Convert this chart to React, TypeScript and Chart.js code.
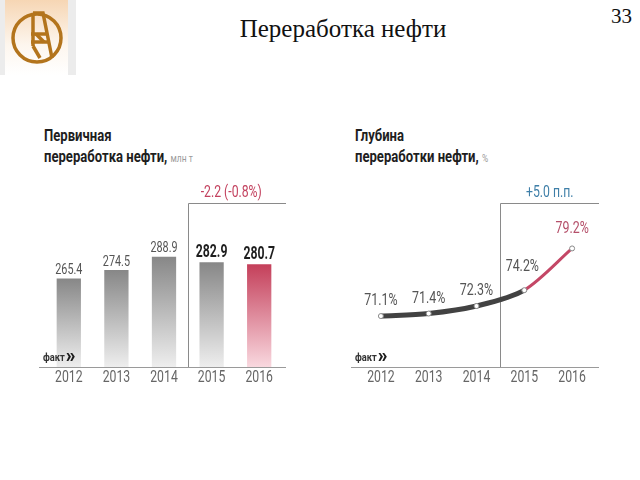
import React, { useEffect, useRef } from "react";
import { Chart, registerables } from "chart.js";

Chart.register(...registerables);

const years = ["2012", "2013", "2014", "2015", "2016"];
const primaryValues = [265.4, 274.5, 288.9, 282.9, 280.7];
const depthValues = [71.1, 71.4, 72.3, 74.2, 79.2];
const primaryChange = "-2.2 (-0.8%)";
const depthChange = "+5.0 п.п.";
const factLabel = "факт";
const pageTitle = "Переработка нефти";
const pageNumber = "33";

const FONT = 'Roboto, "DejaVu Sans Condensed", sans-serif';
const RED = "#c3415e";
const BLUE = "#3f7fa8";
const AXIS = "#9a9a9a";
const SX = 0.72;

function textC(
  ctx: CanvasRenderingContext2D,
  text: string,
  x: number,
  y: number,
  font: string,
  color: string,
  align: CanvasTextAlign = "center",
  sx: number = SX
) {
  ctx.save();
  ctx.font = font;
  ctx.fillStyle = color;
  ctx.textAlign = align;
  ctx.textBaseline = "middle";
  ctx.translate(x, y);
  ctx.scale(sx, 1);
  ctx.fillText(text, 0, 0);
  const w = ctx.measureText(text).width * sx;
  ctx.restore();
  return w;
}

function drawFact(ctx: CanvasRenderingContext2D, x: number, y: number) {
  const w = textC(ctx, factLabel, x, y, `bold 11px ${FONT}`, "#333", "left", 0.85);
  textC(ctx, "»", x + w + 1, y - 1, `900 20px ${FONT}`, "#1a1a1a", "left", 0.95);
}

function drawAxisAndYears(chart: any) {
  const { ctx, chartArea, scales } = chart;
  ctx.save();
  ctx.strokeStyle = AXIS;
  ctx.lineWidth = 1;
  ctx.beginPath();
  ctx.moveTo(chartArea.left - 6, chartArea.bottom + 0.5);
  ctx.lineTo(chartArea.right + 3, chartArea.bottom + 0.5);
  ctx.stroke();
  ctx.restore();
  years.forEach((y, i) => {
    textC(ctx, y, scales.x.getPixelForValue(i), chartArea.bottom + 11, `17px ${FONT}`, "#666");
  });
}

function drawBracket(chart: any, text: string, color: string, shift: number) {
  const { ctx, chartArea, scales } = chart;
  const xs = Math.round((scales.x.getPixelForValue(2) + scales.x.getPixelForValue(3)) / 2) + 0.5;
  const right = chartArea.right + 3;
  const top = chartArea.top + 3.5;
  ctx.save();
  ctx.strokeStyle = "#8a8a8a";
  ctx.lineWidth = 1;
  ctx.beginPath();
  ctx.moveTo(right, top);
  ctx.lineTo(xs, top);
  ctx.lineTo(xs, chartArea.bottom);
  ctx.stroke();
  ctx.restore();
  textC(ctx, text, (xs + right) / 2 + shift, top - 11, `17px ${FONT}`, color);
}

const barPlugin = {
  id: "barDecor",
  afterDatasetsDraw(chart: any) {
    const { ctx, chartArea } = chart;
    drawAxisAndYears(chart);
    drawBracket(chart, primaryChange, RED, -6);
    const meta = chart.getDatasetMeta(0);
    meta.data.forEach((bar: any, i: number) => {
      const strong = i >= 3;
      textC(
        ctx,
        primaryValues[i].toFixed(1),
        bar.x,
        bar.y - (strong ? 10 : 8),
        strong ? `bold 18px ${FONT}` : `15px ${FONT}`,
        strong ? "#1e1e1e" : "#555",
        "center",
        strong ? 0.68 : 0.72
      );
    });
    drawFact(ctx, chartArea.left - 2, chartArea.bottom - 9);
  },
};

const linePlugin = {
  id: "lineDecor",
  beforeDatasetsDraw(chart: any) {
    drawAxisAndYears(chart);
    drawBracket(chart, depthChange, BLUE, 0);
  },
  afterDatasetsDraw(chart: any) {
    const { ctx, chartArea } = chart;
    const meta = chart.getDatasetMeta(0);
    meta.data.forEach((pt: any, i: number) => {
      textC(
        ctx,
        depthValues[i].toFixed(1) + "%",
        pt.x - (i === 3 ? 2 : 0),
        pt.y - (i === 3 ? 23 : i === 4 ? 20 : 15),
        `17px ${FONT}`,
        i === 4 ? "#b5506a" : "#555",
        "center",
        0.73
      );
    });
    drawFact(ctx, chartArea.left - 2, chartArea.bottom - 9);
  },
};

function barGradient(c: any) {
  const chart = c.chart;
  const area = chart.chartArea;
  const yScale = chart.scales && chart.scales.y;
  if (!area || !yScale) return c.dataIndex === 4 ? RED : "#aaa";
  const top = yScale.getPixelForValue(primaryValues[c.dataIndex]);
  const g = chart.ctx.createLinearGradient(0, top, 0, area.bottom);
  if (c.dataIndex === 4) {
    g.addColorStop(0, "#c43f5a");
    g.addColorStop(1, "#f9d8df");
  } else {
    g.addColorStop(0, "#878787");
    g.addColorStop(1, "#eeeeee");
  }
  return g;
}

function BarChart() {
  const ref = useRef<HTMLCanvasElement>(null);
  useEffect(() => {
    const chart = new Chart(ref.current!, {
      type: "bar",
      data: {
        labels: years,
        datasets: [
          {
            data: primaryValues,
            backgroundColor: barGradient,
            borderWidth: 0,
            barPercentage: 0.51,
            categoryPercentage: 1,
          },
        ],
      },
      options: {
        animation: false,
        responsive: false,
        layout: { padding: { top: 100, bottom: 33, left: 45, right: 37 } },
        plugins: { legend: { display: false }, tooltip: { enabled: false } },
        scales: {
          x: { display: false },
          y: { display: false, min: 170, max: 350 },
        },
      },
      plugins: [barPlugin],
    });
    return () => chart.destroy();
  }, []);
  return <canvas ref={ref} width={320} height={300} style={{ position: "absolute", left: 0, top: 100 }} />;
}

function LineChart() {
  const ref = useRef<HTMLCanvasElement>(null);
  useEffect(() => {
    const chart = new Chart(ref.current!, {
      type: "line",
      data: {
        labels: years,
        datasets: [
          {
            data: depthValues,
            borderColor: "#444",
            borderWidth: 5,
            tension: 0.3,
            segment: {
              borderColor: (c: any) => (c.p1DataIndex === 4 ? "#c44766" : "#424242"),
              borderWidth: (c: any) => (c.p1DataIndex === 4 ? 3 : 5),
            },
            pointRadius: 2.5,
            pointBackgroundColor: "#ffffff",
            pointBorderColor: "#888",
            pointBorderWidth: 1,
            clip: false,
          },
        ],
      },
      options: {
        animation: false,
        responsive: false,
        layout: { padding: { top: 100, bottom: 33, left: 37, right: 44 } },
        plugins: { legend: { display: false }, tooltip: { enabled: false } },
        scales: {
          x: { display: false, offset: true },
          y: { display: false, min: 65, max: 85 },
        },
      },
      plugins: [linePlugin],
    });
    return () => chart.destroy();
  }, []);
  return <canvas ref={ref} width={320} height={300} style={{ position: "absolute", left: 320, top: 100 }} />;
}

function Logo() {
  const c = "#b3741c";
  return (
    <svg width={76} height={76} style={{ position: "absolute", left: 0, top: 0 }}>
      <defs>
        <linearGradient id="lg" x1="0" y1="0" x2="0" y2="1">
          <stop offset="0" stopColor="#f6d6b4" />
          <stop offset="0.6" stopColor="#fdf6ee" />
          <stop offset="1" stopColor="#ffffff" />
        </linearGradient>
      </defs>
      <rect x={0} y={0} width={76} height={75} fill="#ececec" />
      <rect x={5} y={0} width={63} height={75} fill="url(#lg)" />
      <circle cx={37} cy={38} r={24} fill="none" stroke={c} strokeWidth={3.5} />
      <g stroke={c} strokeWidth={3.5} fill="none" strokeLinejoin="miter">
        <path d="M33 13 L43 13 L52 58" />
        <path d="M33 13 L33 46" />
        <path d="M31 34 L46 34" />
        <path d="M31 42 L48 42" />
        <path d="M33 46 L40 58" />
        <path d="M36 34 L44 42" />
      </g>
    </svg>
  );
}

export default function App() {
  const titleStyle: React.CSSProperties = {
    position: "absolute",
    fontFamily: FONT,
    fontWeight: "bold",
    fontSize: 17,
    lineHeight: "21px",
    color: "#1e1e1e",
    whiteSpace: "nowrap",
    transform: "scaleX(0.77)",
    transformOrigin: "0 0",
  };
  const unitStyle: React.CSSProperties = { fontWeight: "normal", fontSize: 11, color: "#9a9a9a" };
  return (
    <div
      style={{
        position: "fixed",
        left: 0,
        top: 0,
        width: 640,
        height: 480,
        background: "#fff",
        overflow: "hidden",
      }}
    >
      <Logo />
      <div
        style={{
          position: "absolute",
          left: 193,
          top: 15,
          width: 300,
          textAlign: "center",
          fontFamily: '"Liberation Serif", "Times New Roman", serif',
          fontSize: 25,
          lineHeight: "28px",
          color: "#111",
        }}
      >
        {pageTitle}
      </div>
      <div
        style={{
          position: "absolute",
          left: 611,
          top: 4,
          fontFamily: '"Liberation Serif", "Times New Roman", serif',
          fontSize: 21,
          lineHeight: "24px",
          color: "#111",
        }}
      >
        {pageNumber}
      </div>
      <div style={{ ...titleStyle, left: 44, top: 125 }}>
        Первичная
        <br />
        переработка нефти, <span style={unitStyle}>млн т</span>
      </div>
      <div style={{ ...titleStyle, left: 355, top: 125 }}>
        Глубина
        <br />
        переработки нефти, <span style={unitStyle}>%</span>
      </div>
      <BarChart />
      <LineChart />
    </div>
  );
}
